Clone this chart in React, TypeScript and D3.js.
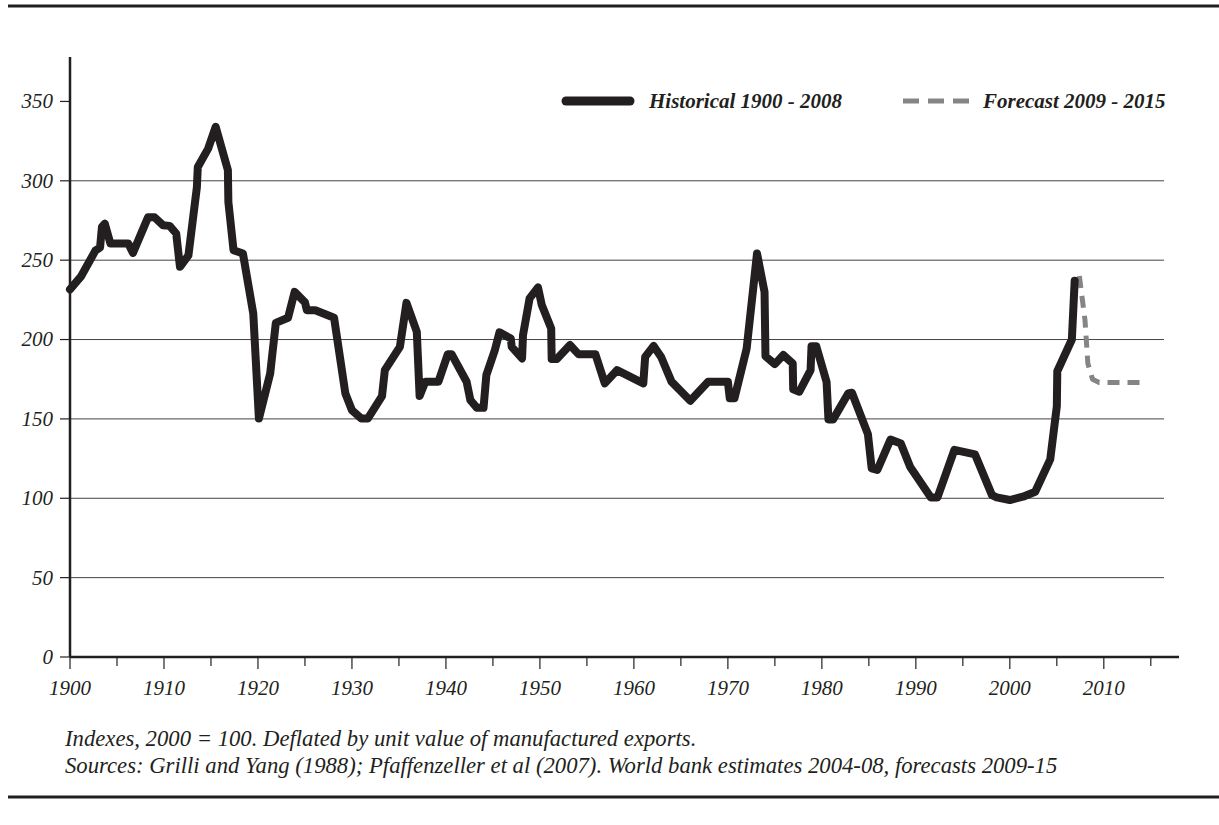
import * as d3 from 'd3'

const W = 1219, H = 825
const LEFT = 70, BASE = 657, TOP = 57
const AXIS_END = 1179, GRID_END = 1164
const INK = '#231f20'
const FONT = '"Liberation Serif", "DejaVu Serif", serif'

// historical series (year, index)
const histYears = [
  1900, 1901.2, 1902.7, 1903.2, 1903.4, 1903.7, 1904.3, 1906.2, 1906.7, 1908.3,
  1909, 1909.9, 1910.6, 1911.3, 1911.7, 1912.6, 1913.5, 1913.6, 1914.7, 1915.5,
  1916.8, 1916.85, 1917.4, 1918.4, 1919.5, 1920.1, 1921.3, 1921.9, 1923.2, 1923.9,
  1925, 1925.2, 1926.1, 1928.1, 1929.3, 1930, 1931, 1931.7, 1933.2, 1933.5,
  1935.1, 1935.8, 1936.9, 1937.2, 1937.8, 1939.2, 1940.2, 1940.6, 1942.2, 1942.6,
  1943.3, 1944, 1944.3, 1945.2, 1945.7, 1946.9, 1947, 1948.1, 1948.2, 1948.9,
  1949.8, 1950.2, 1951.2, 1951.25, 1951.8, 1953.2, 1954.1, 1955.9, 1956.9, 1958.2,
  1961, 1961.2, 1962.1, 1962.9, 1964, 1966, 1967.9, 1970, 1970.2, 1970.7,
  1972, 1973.1, 1973.9, 1974, 1975, 1975.9, 1976.9, 1976.95, 1977.6, 1978.8,
  1978.9, 1979.4, 1980.5, 1980.7, 1981.2, 1982.8, 1983.2, 1984.9, 1985.3, 1985.9,
  1987.3, 1988.4, 1989.4, 1991.6, 1992.3, 1994.1, 1996.3, 1998.1, 1998.6, 2000,
  2001.4, 2002.7, 2004.3, 2005, 2005.05, 2006.6, 2006.9,
]
const histValues = [
  231.6, 240, 256, 258, 271, 273, 260.5, 260.5, 254.6, 277,
  277, 272, 271.6, 266.8, 245.8, 253, 296, 308.7, 320.3, 334,
  306.7, 286.7, 256.3, 254.2, 216.4, 150.3, 178.6, 210.5, 213.7, 230,
  223.4, 218.5, 218.5, 213.7, 166, 155.5, 150.3, 150.3, 164.4, 180.7,
  195.4, 223.1, 204.9, 164.4, 173.4, 173.4, 190.8, 190.8, 173.4, 161.8,
  157, 157, 177.6, 193.3, 204.5, 200.7, 195.4, 188.1, 202.8, 225.9,
  232.8, 221.7, 207, 187.7, 187.7, 196.5, 190.8, 190.8, 172.4, 180.7,
  172.4, 189.1, 196, 189, 173.5, 161.4, 173.4, 173.4, 163, 163,
  194.4, 254.2, 230, 189.5, 184.5, 190.2, 184.9, 168.6, 167.1, 180.7,
  195.8, 195.8, 173.4, 149.7, 149.7, 166, 166.5, 140.4, 118.8, 117.8,
  137, 134.5, 119.7, 100.5, 100.5, 130.5, 127.6, 102, 100.6, 98.9,
  101, 104.1, 124.5, 158, 180, 200, 237,
]

// forecast series
const fcYears = [2007.4, 2008, 2008.3, 2008.8, 2009.5, 2014.2]
const fcValues = [240, 212, 185, 175, 173, 173]

const yTicks = [0, 50, 100, 150, 200, 250, 300, 350]
const gridValues = [50, 100, 150, 200, 250, 300]
const xMajor = [1900, 1910, 1920, 1930, 1940, 1950, 1960, 1970, 1980, 1990, 2000, 2010]
const xMinor = [1905, 1915, 1925, 1935, 1945, 1955, 1965, 1975, 1985, 1995, 2005, 2015]

const notes = [
  'Indexes, 2000 = 100. Deflated by unit value of manufactured exports.',
  'Sources: Grilli and Yang (1988); Pfaffenzeller et al (2007). World bank estimates 2004-08, forecasts 2009-15',
]

export default function App() {
  const x = d3.scaleLinear().domain([1900, 2018]).range([LEFT, AXIS_END])
  const y = d3.scaleLinear().domain([0, 378]).range([BASE, TOP])

  const line = d3.line<[number, number]>().x(d => x(d[0])).y(d => y(d[1]))
  const hist = histYears.map((yr, i) => [yr, histValues[i]] as [number, number])
  const fc = fcYears.map((yr, i) => [yr, fcValues[i]] as [number, number])

  return (
    <svg width={W} height={H} style={{ position: 'absolute', left: 0, top: 0, background: '#fff' }}
      fontFamily={FONT} fontStyle="italic">
      {/* page rules */}
      <line x1={8} x2={W} y1={6} y2={6} stroke={INK} strokeWidth={3} />
      <line x1={8} x2={W} y1={797} y2={797} stroke={INK} strokeWidth={3} />

      {/* grid */}
      {gridValues.map(v => (
        <line key={v} x1={LEFT} x2={GRID_END} y1={y(v)} y2={y(v)} stroke="#444" strokeWidth={1} />
      ))}

      {/* y axis */}
      <line x1={LEFT} x2={LEFT} y1={TOP} y2={BASE} stroke={INK} strokeWidth={2.5} />
      {yTicks.map(v => (
        <g key={v}>
          <line x1={LEFT - 10} x2={LEFT} y1={y(v)} y2={y(v)} stroke={INK} strokeWidth={1.2} />
          <text x={53} y={y(v)} dy="0.33em" textAnchor="end" fontSize={21} fill={INK}>{v}</text>
        </g>
      ))}

      {/* x axis */}
      <line x1={LEFT} x2={AXIS_END} y1={BASE} y2={BASE} stroke={INK} strokeWidth={2.5} />
      {xMajor.map(v => (
        <g key={v}>
          <line x1={x(v)} x2={x(v)} y1={BASE} y2={BASE + 12} stroke={INK} strokeWidth={1.2} />
          <text x={x(v)} y={695} textAnchor="middle" fontSize={21} fill={INK}>{v}</text>
        </g>
      ))}
      {xMinor.map(v => (
        <line key={v} x1={x(v)} x2={x(v)} y1={BASE} y2={BASE + 9} stroke={INK} strokeWidth={1.2} />
      ))}

      {/* series */}
      <path d={line(fc) ?? ''} fill="none" stroke="#858585" strokeWidth={5}
        strokeDasharray="12 8" strokeLinejoin="round" />
      <path d={line(hist) ?? ''} fill="none" stroke={INK} strokeWidth={8}
        strokeLinejoin="round" strokeLinecap="round" />

      {/* legend */}
      <line x1={566} x2={630} y1={101} y2={101} stroke={INK} strokeWidth={9} strokeLinecap="round" />
      <text x={649} y={101} dy="0.33em" fontSize={21} fontWeight="bold" fill={INK}>Historical 1900 - 2008</text>
      <line x1={903} x2={970} y1={101} y2={101} stroke="#858585" strokeWidth={5} strokeDasharray="16 9" />
      <text x={983} y={101} dy="0.33em" fontSize={21} fontWeight="bold" fill={INK}>Forecast 2009 - 2015</text>

      {/* notes */}
      {notes.map((t, i) => (
        <text key={i} x={65} y={746 + i * 27} fontSize={22.7} fill={INK}>{t}</text>
      ))}
    </svg>
  )
}
